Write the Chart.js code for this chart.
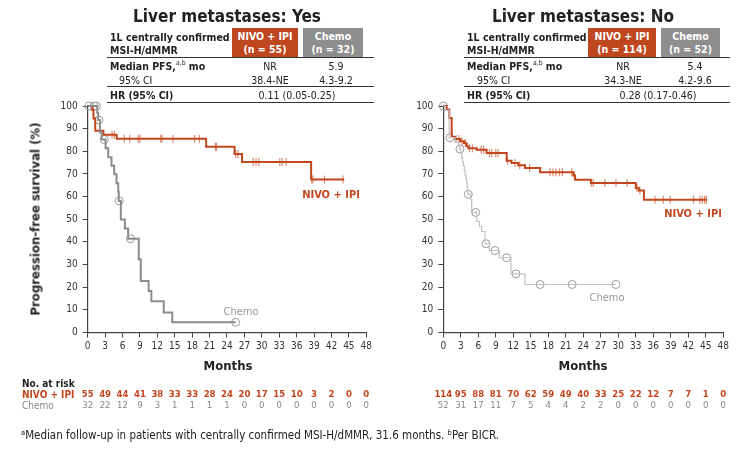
<!DOCTYPE html>
<html><head><meta charset="utf-8">
<script src="https://cdn.jsdelivr.net/npm/chart.js@4.4.1/dist/chart.umd.min.js"></script>
<style>
body{margin:0;background:#fff;font-family:"DejaVu Sans Condensed","DejaVu Sans",sans-serif;color:#222}
#wrap{position:relative;width:750px;height:449px;overflow:hidden;background:#fff}
canvas{position:absolute;top:0}
.t{position:absolute;white-space:nowrap;line-height:1}
.l{transform:translateY(-50%)}
.c{transform:translate(-50%,-50%);text-align:center}
.b{font-weight:bold}
.box{position:absolute;color:#fff;font-weight:bold;font-size:10.5px;text-align:center;line-height:13px;padding-top:2px;box-sizing:border-box}
.rule{position:absolute;height:1.3px;background:#333}
sup{font-size:65%;vertical-align:top;position:relative;top:-1px;font-weight:normal}
</style></head>
<body><div id="wrap">
<canvas id="c1" width="375" height="449" style="left:0"></canvas>
<canvas id="c2" width="375" height="449" style="left:375px"></canvas>

<!-- Left header -->
<div class="t c b" style="left:227px;top:16px;font-size:17px">Liver metastases: Yes</div>
<div class="t l b" style="left:110px;top:37px;font-size:10.5px">1L centrally confirmed</div>
<div class="t l b" style="left:110px;top:50px;font-size:10.5px">MSI-H/dMMR</div>
<div class="box" style="left:232px;top:28px;width:66px;height:29px;background:#BE4720">NIVO + IPI<br>(n = 55)</div>
<div class="box" style="left:303px;top:28px;width:60px;height:29px;background:#8E8E8E">Chemo<br>(n = 32)</div>
<div class="rule" style="left:107px;top:56.5px;width:267px"></div>
<div class="t l b" style="left:110px;top:66px;font-size:10.5px">Median PFS,<sup>a,b</sup> mo</div>
<div class="t c" style="left:270px;top:66px;font-size:10.5px">NR</div>
<div class="t c" style="left:336px;top:66px;font-size:10.5px">5.9</div>
<div class="t l" style="left:119px;top:79.5px;font-size:10.5px">95% CI</div>
<div class="t c" style="left:270px;top:79.5px;font-size:10.5px">38.4-NE</div>
<div class="t c" style="left:336px;top:79.5px;font-size:10.5px">4.3-9.2</div>
<div class="rule" style="left:107px;top:86px;width:267px"></div>
<div class="t l b" style="left:110px;top:94.5px;font-size:10.5px">HR (95% CI)</div>
<div class="t c" style="left:297px;top:94.5px;font-size:10.5px">0.11 (0.05-0.25)</div>
<div class="rule" style="left:107px;top:101.5px;width:267px"></div>

<!-- Right header -->
<div class="t c b" style="left:583px;top:16px;font-size:17px">Liver metastases: No</div>
<div class="t l b" style="left:467px;top:37px;font-size:10.5px">1L centrally confirmed</div>
<div class="t l b" style="left:467px;top:50px;font-size:10.5px">MSI-H/dMMR</div>
<div class="box" style="left:588px;top:28px;width:68px;height:29px;background:#BE4720">NIVO + IPI<br>(n = 114)</div>
<div class="box" style="left:661px;top:28px;width:59px;height:29px;background:#8E8E8E">Chemo<br>(n = 52)</div>
<div class="rule" style="left:464px;top:56.5px;width:266px"></div>
<div class="t l b" style="left:467px;top:66px;font-size:10.5px">Median PFS,<sup>a,b</sup> mo</div>
<div class="t c" style="left:623px;top:66px;font-size:10.5px">NR</div>
<div class="t c" style="left:695px;top:66px;font-size:10.5px">5.4</div>
<div class="t l" style="left:477px;top:79.5px;font-size:10.5px">95% CI</div>
<div class="t c" style="left:623px;top:79.5px;font-size:10.5px">34.3-NE</div>
<div class="t c" style="left:695px;top:79.5px;font-size:10.5px">4.2-9.6</div>
<div class="rule" style="left:464px;top:86px;width:266px"></div>
<div class="t l b" style="left:467px;top:94.5px;font-size:10.5px">HR (95% CI)</div>
<div class="t c" style="left:658px;top:94.5px;font-size:10.5px">0.28 (0.17-0.46)</div>
<div class="rule" style="left:464px;top:101.5px;width:266px"></div>

<!-- axis titles & curve labels -->
<div class="t c b" style="left:35px;top:219px;font-size:13px;transform:translate(-50%,-50%) rotate(-90deg)">Progression-free survival (%)</div>
<div class="t c b" style="left:228px;top:365px;font-size:13px">Months</div>
<div class="t c b" style="left:583px;top:365px;font-size:13px">Months</div>
<div class="t c b" style="left:331px;top:194px;font-size:11px;color:#C2461E">NIVO + IPI</div>
<div class="t c b" style="left:693px;top:213px;font-size:11px;color:#C2461E">NIVO + IPI</div>
<div class="t c" style="left:241px;top:311px;font-size:11px;color:#999">Chemo</div>
<div class="t c" style="left:607px;top:297px;font-size:11px;color:#999">Chemo</div>

<!-- at risk labels -->
<div class="t l b" style="left:22px;top:384px;font-size:10px">No. at risk</div>
<div class="t l b" style="left:22px;top:395px;font-size:10px;color:#C2461E">NIVO + IPI</div>
<div class="t l" style="left:22px;top:406px;font-size:10px;color:#888">Chemo</div>

<div class="t l" style="left:21px;top:436px;font-size:11.5px"><sup>a</sup>Median follow-up in patients with centrally confirmed MSI-H/dMMR, 31.6 months. <sup>b</sup>Per BICR.</div>
</div>

<script>
// ---------- DATA ----------
const riskMonths = [0,3,6,9,12,15,18,21,24,27,30,33,36,39,42,45,48];

// Liver metastases: Yes
const yesNivoCurve  = [[0,100],[0.8,98.2],[1.0,94.5],[1.3,89.1],[2.7,87.3],[5.0,85.5],[20.4,82.0],[25.3,78.8],[26.6,75.3],[38.5,67.5],[44.2,67.5]];
const yesNivoCensor = [[4.2,87.3],[4.6,87.3],[6.3,85.5],[7.25,85.5],[8.7,85.5],[9.0,85.5],[12.6,85.5],[12.8,85.5],[14.7,85.5],[18.4,85.5],[19.25,85.5],[22.0,82.0],[22.2,82.0],[25.5,78.8],[25.9,78.8],[28.5,75.3],[29.0,75.3],[29.5,75.3],[33.1,75.3],[33.5,75.3],[34.2,75.3],[38.6,67.5],[38.8,67.5],[40.8,67.5],[44.0,67.5]];
const yesChemoCurve = [[0,100],[1.65,96.9],[1.8,93.8],[2.1,88.4],[2.4,85.2],[3.08,81.3],[3.54,77.4],[4.1,73.6],[4.57,69.9],[4.97,65.9],[5.26,62.1],[5.35,58.1],[5.71,49.9],[6.4,45.9],[6.97,41.4],[8.8,32.3],[9.14,22.7],[10.5,18.3],[10.97,13.8],[13.1,8.8],[14.57,4.5],[25.5,4.5]];
const yesChemoCensor = [[0.2,100],[1.1,100],[1.5,100],[1.94,93.8],[2.85,85.2],[5.43,58.1],[7.37,41.4],[25.5,4.5]];
const yesNivoRisk  = [55,49,44,41,38,33,33,28,24,20,17,15,10,3,2,0,0];
const yesChemoRisk = [32,22,12,9,3,1,1,1,1,0,0,0,0,0,0,0,0];

// Liver metastases: No
const noNivoCurve  = [[0,100],[0.57,98.4],[1.03,94.7],[1.44,86.3],[2.0,85.4],[2.9,84.4],[3.55,83.6],[4.0,82.2],[4.3,81.3],[5.72,80.7],[7.43,79.2],[10.86,75.8],[11.7,74.8],[12.86,73.8],[14.0,72.6],[16.6,70.8],[22.3,69.3],[22.6,67.4],[25.3,66.0],[33.0,63.8],[33.5,62.7],[34.4,58.6],[45.2,58.6]];
const noNivoCensor = [[2.2,85.4],[2.7,85.4],[3.2,84.4],[3.8,83.6],[4.5,81.3],[5.0,81.3],[6.5,80.7],[6.9,80.7],[7.9,79.2],[8.3,79.2],[9.0,79.2],[9.4,79.2],[11.0,75.8],[12.3,74.8],[13.1,73.8],[14.8,72.6],[18.3,70.8],[18.8,70.8],[19.3,70.8],[19.9,70.8],[20.4,70.8],[22.0,70.8],[22.45,69.3],[25.4,66.0],[25.7,66.0],[27.7,66.0],[29.6,66.0],[31.5,66.0],[33.2,63.8],[33.7,62.7],[36.3,58.6],[37.7,58.6],[38.9,58.6],[42.9,58.6],[44.0,58.6],[44.4,58.6],[44.8,58.6],[45.1,58.6]];
const noChemoCurve = [[0,100],[0.4,98.1],[1.0,86.0],[2.0,84.0],[2.6,82.0],[2.8,81.0],[3.0,79.1],[3.15,77.2],[3.3,75.3],[3.45,73.4],[3.6,71.5],[3.75,69.6],[3.9,67.7],[4.0,65.8],[4.1,63.9],[4.2,61.0],[4.69,58.6],[4.86,53.0],[5.72,51.0],[5.75,49.0],[6.18,46.8],[6.58,44.6],[7.15,39.2],[7.9,36.2],[9.6,33.0],[11.6,25.9],[14.0,21.2],[29.6,21.2]];
const noChemoCensor = [[0,100],[1.15,86.0],[2.86,81.0],[4.29,61.0],[5.55,53.0],[7.32,39.2],[8.86,36.2],[10.86,33.0],[12.46,25.9],[16.6,21.2],[22.1,21.2],[29.6,21.2]];
const noNivoRisk  = [114,95,88,81,70,62,59,49,40,33,25,22,12,7,7,1,0];
const noChemoRisk = [52,31,17,11,7,5,4,4,2,2,0,0,0,0,0,0,0];

// ---------- STYLE ----------
const ORANGE = '#C2461E';
const FONT = '"DejaVu Sans Condensed","DejaVu Sans",sans-serif';
const toXY = a => a.map(p => ({x:p[0], y:p[1]}));

const atRiskPlugin = {
  id:'atRisk',
  afterDraw(chart, args, opts){
    const ctx = chart.ctx, xs = chart.scales.x;
    ctx.save();
    ctx.textAlign='center'; ctx.textBaseline='middle';
    opts.rows.forEach(r=>{
      ctx.font = (r.bold?'bold ':'') + '9.5px ' + FONT;
      ctx.fillStyle = r.color;
      riskMonths.forEach((m,i)=>{
        ctx.fillText(String(r.values[i]), xs.getPixelForValue(m), r.y);
      });
    });
    ctx.restore();
  }
};

function makeKM(id, o){
  const axisCol = '#444';
  return new Chart(document.getElementById(id), {
    type:'line',
    data:{datasets:[
      {data:toXY(o.chemo), borderColor:o.chemoColor, borderWidth:o.chemoWidth, stepped:true, pointRadius:0, clip:false, fill:false},
      {data:toXY(o.nivo), borderColor:ORANGE, borderWidth:2, stepped:true, pointRadius:0, clip:false, fill:false},
      {data:toXY(o.nivoCens), showLine:false, pointStyle:'line', pointRotation:90, pointRadius:4, pointBorderColor:'rgba(214,120,90,0.85)', pointBorderWidth:1.2, clip:false},
      {data:toXY(o.chemoCens), showLine:false, pointStyle:'circle', pointRadius:4, pointBorderColor:'#9a9a9a', pointBackgroundColor:'rgba(255,255,255,0)', pointBorderWidth:1, clip:false}
    ]},
    options:{
      responsive:false, animation:false, devicePixelRatio:1, events:[],
      layout:{padding:{left:0, top:106, right:o.padR, bottom:96.5}},
      plugins:{legend:{display:false}, tooltip:{enabled:false}, title:{display:false},
        atRisk:{rows:[{values:o.nivoRisk, color:ORANGE, bold:true, y:395},{values:o.chemoRisk, color:'#8a8a8a', bold:false, y:406}]}},
      scales:{
        x:{type:'linear', min:0, max:48,
           ticks:{stepSize:3, autoSkip:false, maxRotation:0, color:'#333', padding:3, font:{family:FONT, size:10}},
           grid:{drawOnChartArea:false, tickLength:5, color:axisCol, lineWidth:1},
           border:{color:axisCol, width:1.2},
           afterFit:s=>{s.height=20;}},
        y:{type:'linear', min:0, max:100,
           ticks:{stepSize:10, color:'#333', padding:5, font:{family:FONT, size:10}},
           grid:{drawOnChartArea:false, tickLength:5, color:axisCol, lineWidth:1},
           border:{color:axisCol, width:1.2},
           afterFit:s=>{s.width=o.yW;}}
      }
    },
    plugins:[atRiskPlugin]
  });
}

makeKM('c1', {nivo:yesNivoCurve, nivoCens:yesNivoCensor, chemo:yesChemoCurve, chemoCens:yesChemoCensor,
  chemoColor:'#8c8c8c', chemoWidth:2, nivoRisk:yesNivoRisk, chemoRisk:yesChemoRisk, yW:87.7, padR:7.3});
makeKM('c2', {nivo:noNivoCurve, nivoCens:noNivoCensor, chemo:noChemoCurve, chemoCens:noChemoCensor,
  chemoColor:'#c2c2c2', chemoWidth:1.2, nivoRisk:noNivoRisk, chemoRisk:noChemoRisk, yW:68.3, padR:26.7});
</script>
</body></html>
